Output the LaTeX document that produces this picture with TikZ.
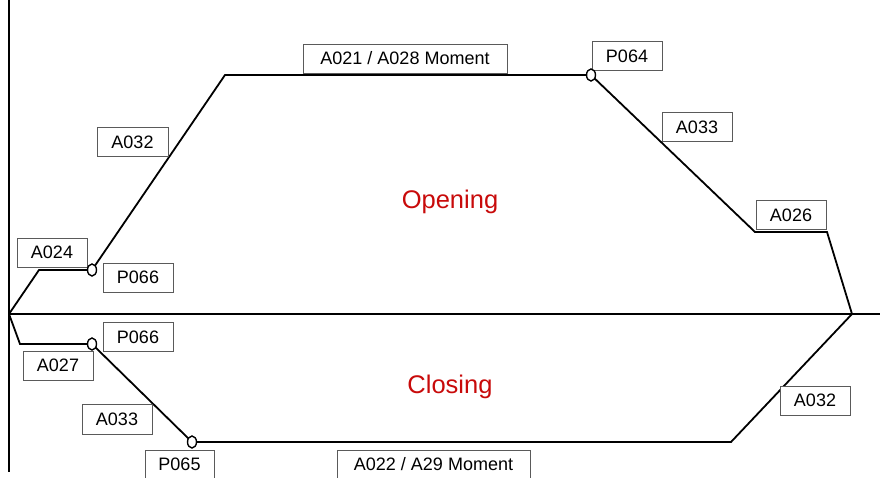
\documentclass[tikz,border=0pt]{standalone}
\usepackage{fontspec}
\setmainfont{Liberation Sans}
\usetikzlibrary{shapes.geometric}
\definecolor{phasered}{RGB}{200,10,10}
\definecolor{boxgray}{RGB}{90,90,90}
\tikzset{
  param/.style={draw=boxgray, fill=white, line width=0.8pt, inner sep=0pt,
    minimum width=70pt, minimum height=29pt, font=\fontsize{18}{21}\selectfont},
  wide/.style={param, minimum width=#1},
  profile/.style={line width=1.8pt, line join=miter},
  axis/.style={line width=1.8pt},
  knee/.style={ellipse, draw, fill=white, line width=1.4pt, inner sep=0pt,
    minimum width=9pt, minimum height=12pt},
  phase/.style={text=phasered, anchor=base, font=\fontsize{25.5}{30}\selectfont}
}
\begin{document}
\begin{tikzpicture}[x=1pt,y=-1pt]
\useasboundingbox (0,0) rectangle (880,477);

% axes
\coordinate (o) at (9,314);
\coordinate (top) at (9,0);
\coordinate (bot) at (9,472);
\coordinate (right) at (880,314);
\draw[axis] (top) -- (bot);
\draw[axis] (o) -- (right);

% opening profile
\coordinate (o1) at (39,270);
\coordinate (o2) at (92,270);
\coordinate (o3) at (225,75);
\coordinate (o4) at (591,75);
\coordinate (o5) at (755,232);
\coordinate (o6) at (827,232);
\coordinate (end) at (852,314);
\draw[profile] (o) -- (o1) -- (o2) -- (o3) -- (o4) -- (o5) -- (o6) -- (end);

% closing profile
\coordinate (c1) at (20,344);
\coordinate (c2) at (92,344);
\coordinate (c3) at (192,442);
\coordinate (c4) at (731,442);
\draw[profile] (o) -- (c1) -- (c2) -- (c3) -- (c4) -- (end);

% parameter labels
\node[wide=204pt] (m1) at (405,58.5) {A021 / A028 Moment};
\node[param] (p064) at (627,56) {P064};
\node[param] (a033t) at (697,127) {A033};
\node[param] (a026) at (791,215) {A026};
\node[param, minimum width=71pt] (a032t) at (132.5,142) {A032};
\node[param] (a024) at (52,252.5) {A024};
\node[param] (p066t) at (138,277.5) {P066};
\node[param] (p066b) at (138,337) {P066};
\node[param] (a027) at (58,365.5) {A027};
\node[param, minimum height=30pt] (a033b) at (117,419) {A033};
\node[param, minimum width=69pt] (p065) at (179.5,464.5) {P065};
\node[wide=193pt] (m2) at (433.5,464.5) {A022 / A29 Moment};
\node[param] (a032b) at (815,400.5) {A032};

% transition points
\node[knee] (k1) at (o2) {};
\node[knee] (k2) at (o4) {};
\node[knee] (k3) at (c2) {};
\node[knee] (k4) at (c3) {};

% phase titles
\node[phase] (opening) at (450,208) {Opening};
\node[phase] (closing) at (450,393) {Closing};
\end{tikzpicture}
\end{document}
